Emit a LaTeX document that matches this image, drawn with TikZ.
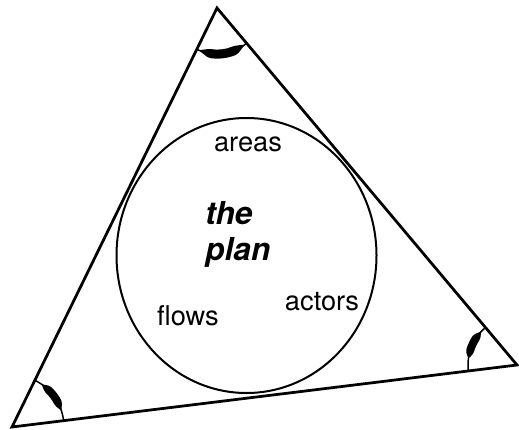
\documentclass[tikz,border=0pt]{standalone}
\usepackage{fontspec}
\setmainfont{TeX Gyre Heros}
\usetikzlibrary{calc}

\begin{document}
\begin{tikzpicture}[x=0.2mm,y=0.2mm,
  side/.style={line width=0.55mm,line join=miter},
  ring/.style={line width=0.4mm},
  angarc/.style={line width=0.3mm},
  lbl/.style={inner sep=0pt,anchor=base,font=\fontsize{15.5}{18}\selectfont},
  big/.style={inner sep=0pt,align=left,font=\fontsize{18}{20.5}\selectfont\bfseries\itshape}]
  \useasboundingbox (0,0) rectangle (519,429);
  % triangle
  \coordinate (T) at (217,421);
  \coordinate (R) at (517,64);
  \coordinate (L) at (12,2);
  \draw[side] (T) -- (R) -- (L) -- cycle;
  % angle marks
  \foreach \v/\a/\b/\r/\f/\g/\h in {T/243.9/310.1/46/0.04/0.96/4.5,
      R/130.1/187.0/49/0.12/0.75/4, L/7.0/63.9/52/0.2/0.85/4} {
    \draw[angarc] ($(\v)+(\a:\r)$) arc[start angle=\a,end angle=\b,radius=\r];
    \pgfmathsetmacro\p{\a+\f*(\b-\a)}
    \pgfmathsetmacro\q{\a+\g*(\b-\a)}
    \pgfmathsetmacro\s{\p+0.22*(\q-\p)}
    \pgfmathsetmacro\t{\q-0.22*(\q-\p)}
    \fill[rounded corners=1pt] ($(\v)+(\p:\r)$) -- ($(\v)+(\s:\r+\h)$)
      arc[start angle=\s,end angle=\t,radius=\r+\h] -- ($(\v)+(\q:\r)$)
      -- ($(\v)+(\t:\r-\h)$) arc[start angle=\t,end angle=\s,radius=\r-\h] -- cycle;
  }
  % circle
  \draw[ring] (246.5,173.5) ellipse [x radius=130,y radius=137.5];
  % labels
  \node[lbl] (areas) at (248,277) {areas};
  \node[lbl] (actors) at (322,119) {actors};
  \node[lbl] (flows) at (188,104) {flows};
  \node[big,anchor=west] (plan) at (205,195) {the\\plan};
\end{tikzpicture}
\end{document}
